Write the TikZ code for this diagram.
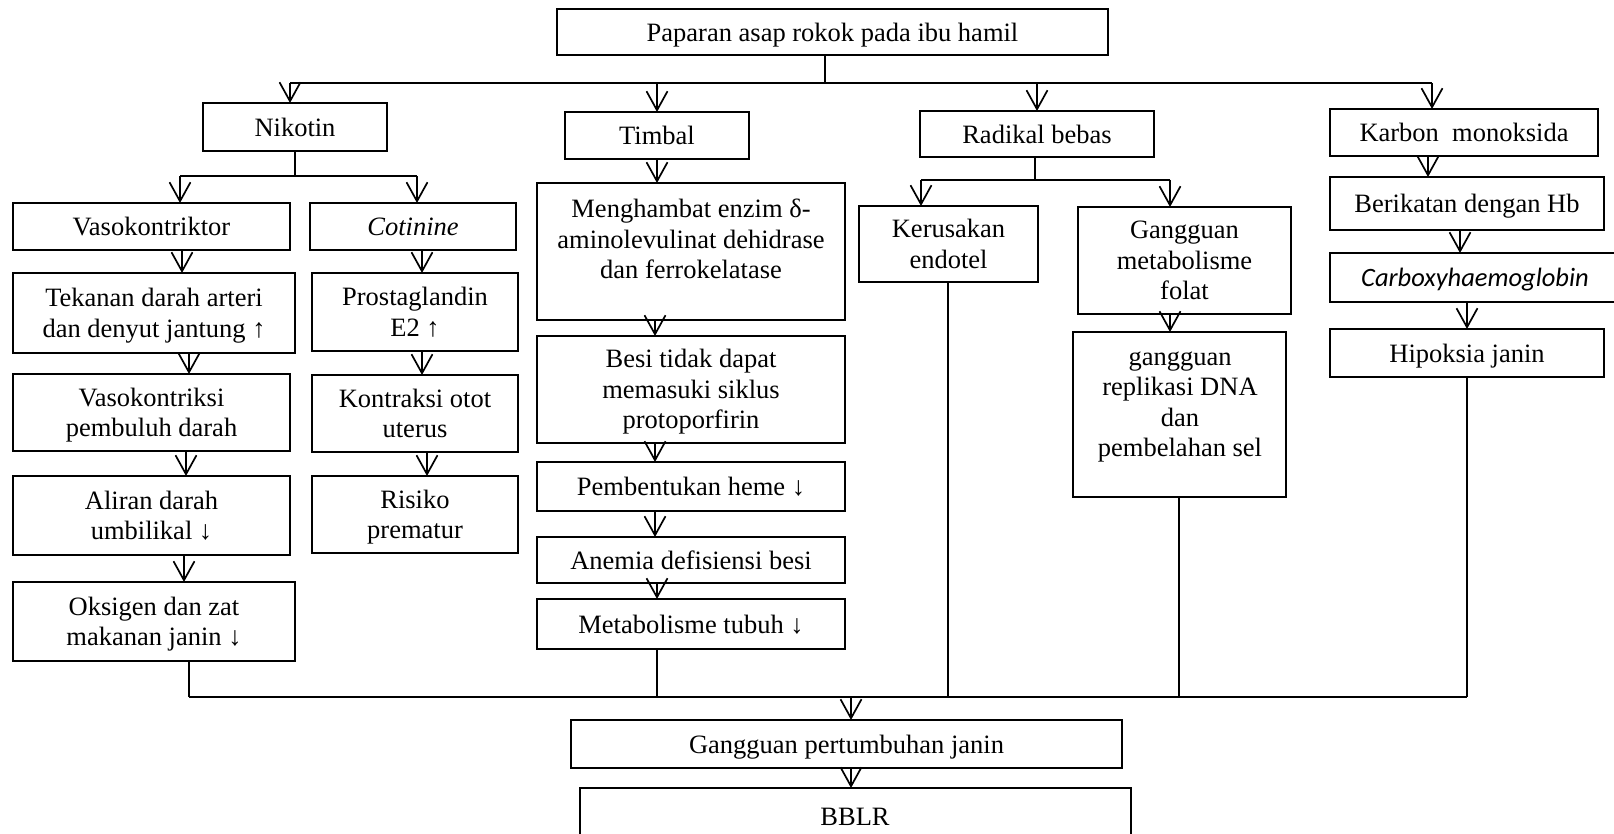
\documentclass[tikz,border=0pt]{standalone}
\usepackage{fontspec}
\setmainfont{Liberation Serif}
\newfontfamily\calib{Carlito}
\usetikzlibrary{arrows.meta}
\newcommand\fs{\fontsize{26.5}{30.5}\selectfont}
\newcommand\mybox[7][]{\node[box,#1,minimum width={(#5-#3)*1pt},minimum height={(#6-#4)*1pt}] (#2) at ({(#3+#5)/2},{(#4+#6)/2}) {#7};}
\begin{document}
\begin{tikzpicture}[x=1pt,y=-1pt,
  box/.style={draw, line width=1.9pt, inner sep=0pt, outer sep=0pt, align=center, font=\fs, text depth=0pt},
  txt/.style={inner sep=0pt, align=center, font=\fs, text depth=0pt},
  arr/.style={line width=1.7pt, -{Straight Barb[length=19pt,width=21pt]}},
  ln/.style={line width=1.2pt}]
\useasboundingbox (0,0) rectangle (1614,834);
\fill[white] (0,0) rectangle (1614,834);
\clip (0,0) rectangle (1614,834);

% top
\mybox{top}{557}{9}{1108}{55}{Paparan asap rokok pada ibu hamil}
% Nikotin column
\mybox{nik}{203}{103}{387}{151}{Nikotin}
\mybox{vaso}{13}{203}{290}{250}{Vasokontriktor}
\mybox{cot}{310}{203}{516}{250}{\textit{Cotinine}}
\mybox{tek}{13}{273}{295}{353}{Tekanan darah arteri\\dan denyut jantung ↑}
\mybox{pro}{312}{273}{518}{351}{Prostaglandin\\E2 ↑}
\mybox{vkr}{13}{374}{290}{451}{Vasokontriksi\\pembuluh darah}
\mybox{kon}{312}{375}{518}{452}{Kontraksi otot\\uterus}
\mybox{ali}{13}{476}{290}{555}{Aliran darah\\umbilikal ↓}
\mybox{ris}{312}{476}{518}{553}{Risiko\\prematur}
\mybox{oks}{13}{582}{295}{661}{Oksigen dan zat\\makanan janin ↓}
% Timbal column
\mybox{tim}{565}{112}{749}{159}{Timbal}
\mybox{meng}{537}{183}{845}{320}{}
\node[txt] (mengt) at (691,239) {Menghambat enzim δ-\\aminolevulinat dehidrase\\dan ferrokelatase};
\mybox{besi}{537}{336}{845}{443}{}
\begin{scope}
\clip (537,336) rectangle (845,433);
\node[txt] (besit) at (691,389) {Besi tidak dapat\\memasuki siklus\\protoporfirin};
\end{scope}
\mybox{pem}{537}{462}{845}{511}{Pembentukan heme ↓}
\mybox{ane}{537}{537}{845}{583}{Anemia defisiensi besi}
\mybox{met}{537}{599}{845}{649}{Metabolisme tubuh ↓}
% Radikal column
\mybox{rad}{920}{111}{1154}{157}{Radikal bebas}
\mybox{ker}{859}{206}{1038}{282}{Kerusakan\\endotel}
\mybox{gmf}{1078}{207}{1291}{314}{Gangguan\\metabolisme\\folat}
\mybox{rep}{1073}{332}{1286}{497}{}
\node[txt] (rept) at (1180,404) {gangguan\\replikasi DNA\\dan\\pembelahan sel};
% Karbon column
\mybox{kar}{1330}{109}{1598}{156}{Karbon\ \ monoksida}
\mybox{ber}{1330}{177}{1604}{230}{Berikatan dengan Hb}
\mybox{cbx}{1330}{253}{1620}{302}{{\calib\itshape Carboxyhaemoglobin}}
\mybox{hip}{1330}{329}{1604}{377}{Hipoksia janin}
% bottom
\mybox{gpj}{571}{720}{1122}{768}{Gangguan pertumbuhan janin}
\mybox{bblr}{580}{788}{1131}{850}{}
\node[txt] (bblrt) at (855,817) {BBLR};

% top bus
\coordinate (b1) at (825,83);
\coordinate (bL) at (290,83);
\coordinate (bT) at (657,83);
\coordinate (bRd) at (1037,83);
\coordinate (bR) at (1432,83);
\draw[ln] (top.south -| b1) -- (b1);
\draw[ln] (bL) -- (bR);
\draw[arr] (bL) -- (nik.north -| bL);
\draw[arr] (bT) -- (tim.north -| bT);
\draw[arr] (bRd) -- (rad.north -| bRd);
\draw[arr] (bR) -- (kar.north -| bR);

% Nikotin branches
\coordinate (n1) at (295,176);
\coordinate (nL) at (180,176);
\coordinate (nR) at (417,176);
\draw[ln] (nik.south -| n1) -- (n1);
\draw[ln] (nL) -- (nR);
\draw[arr] (nL) -- (vaso.north -| nL);
\draw[arr] (nR) -- (cot.north -| nR);
\draw[arr] (vaso.south -| 182,0) -- (tek.north -| 182,0);
\draw[arr] (tek.south -| 189,0) -- (vkr.north -| 189,0);
\draw[arr] (vkr.south -| 186,0) -- (ali.north -| 186,0);
\draw[arr] (ali.south -| 184,0) -- (oks.north -| 184,0);
\draw[arr] (cot.south -| 422,0) -- (pro.north -| 422,0);
\draw[arr] (pro.south -| 422,0) -- (kon.north -| 422,0);
\draw[arr] (kon.south -| 427,0) -- (ris.north -| 427,0);

% Timbal chain
\draw[arr] (tim.south -| 657,0) -- (meng.north -| 657,0);
\draw[arr] (meng.south -| 655,0) -- (besi.north -| 655,0);
\draw[arr] (besi.south -| 655,0) -- (pem.north -| 655,0);
\draw[arr] (pem.south -| 655,0) -- (ane.north -| 655,0);
\draw[arr] (ane.south -| 657,0) -- (met.north -| 657,0);

% Radikal branches
\coordinate (r1) at (1035,180);
\coordinate (rL) at (921,180);
\coordinate (rR) at (1170,180);
\draw[ln] (rad.south -| r1) -- (r1);
\draw[ln] (rL) -- (rR);
\draw[arr] (rL) -- (ker.north -| rL);
\draw[arr] (rR) -- (gmf.north -| rR);
\draw[arr] (gmf.south -| 1170,0) -- (rep.north -| 1170,0);

% Karbon chain
\draw[arr] (kar.south -| 1428,0) -- (ber.north -| 1428,0);
\draw[arr] (ber.south -| 1460,0) -- (cbx.north -| 1460,0);
\draw[arr] (cbx.south -| 1467,0) -- (hip.north -| 1467,0);

% bottom bus
\coordinate (qL) at (189,697);
\coordinate (qR) at (1467,697);
\coordinate (q1) at (851,697);
\draw[ln] (oks.south -| qL) -- (qL);
\draw[ln] (met.south -| 657,0) -- (657,0 |- qL);
\draw[ln] (ker.south -| 948,0) -- (948,0 |- qL);
\draw[ln] (rep.south -| 1179,0) -- (1179,0 |- qL);
\draw[ln] (hip.south -| qR) -- (qR);
\draw[ln] (qL) -- (qR);
\draw[arr] (q1) -- (gpj.north -| q1);
\draw[arr] (gpj.south -| q1) -- (bblr.north -| q1);
\end{tikzpicture}
\end{document}
